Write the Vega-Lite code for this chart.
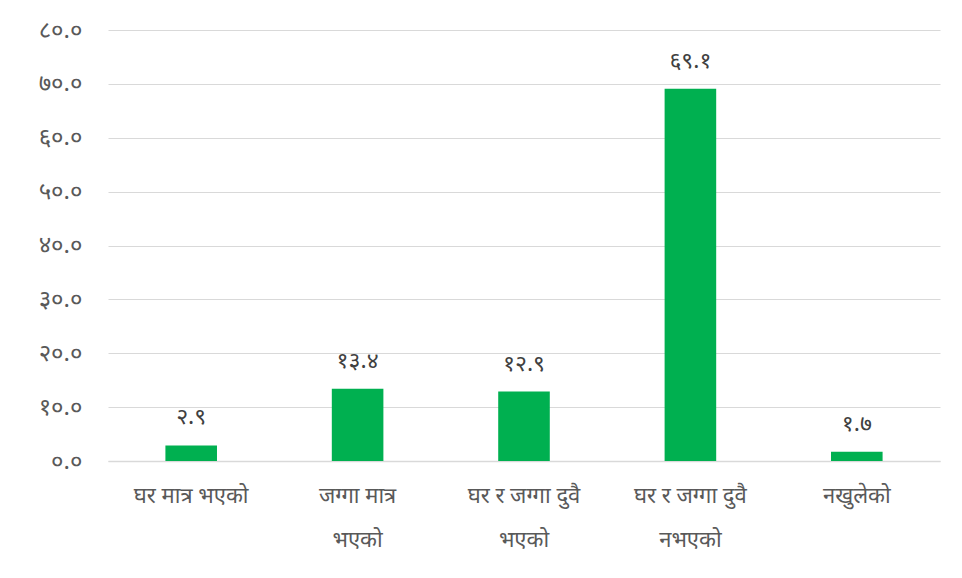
{
  "$schema": "https://vega.github.io/schema/vega-lite/v6.json",
  "width": 832,
  "height": 431,
  "autosize": "none",
  "padding": {"left": 108, "top": 30, "right": 22, "bottom": 117},
  "background": "white",
  "config": {
    "view": {"stroke": null},
    "font": "Noto Sans",
    "axis": {"labelFont": "Noto Sans", "labelColor": "#595959"}
  },
  "data": {
    "values": [
      {"category": "घर मात्र भएको", "value": 2.9, "label": "२.९"},
      {"category": "जग्गा मात्र|भएको", "value": 13.4, "label": "१३.४"},
      {"category": "घर र जग्गा दुवै|भएको", "value": 12.9, "label": "१२.९"},
      {"category": "घर र जग्गा दुवै|नभएको", "value": 69.1, "label": "६९.१"},
      {"category": "नखुलेको", "value": 1.7, "label": "१.७"}
    ]
  },
  "encoding": {
    "x": {
      "field": "category",
      "type": "nominal",
      "sort": null,
      "scale": {"paddingInner": 0.69, "paddingOuter": 0.345},
      "axis": {
        "title": null,
        "labelAngle": 0,
        "labelFontSize": 22,
        "labelExpr": "split(datum.label, '|')",
        "labelLineHeight": 44,
        "labelPadding": 24,
        "ticks": false,
        "domainColor": "#d9d9d9",
        "domainWidth": 1.5
      }
    },
    "y": {
      "field": "value",
      "type": "quantitative",
      "scale": {"domain": [0, 80]},
      "axis": {
        "title": null,
        "values": [0, 10, 20, 30, 40, 50, 60, 70, 80],
        "labelExpr": "datum.value == 0 ? '०.०' : datum.value == 10 ? '१०.०' : datum.value == 20 ? '२०.०' : datum.value == 30 ? '३०.०' : datum.value == 40 ? '४०.०' : datum.value == 50 ? '५०.०' : datum.value == 60 ? '६०.०' : datum.value == 70 ? '७०.०' : '८०.०'",
        "labelFontSize": 24,
        "labelPadding": 26,
        "ticks": false,
        "domain": false,
        "gridColor": "#d9d9d9",
        "gridWidth": 1.2
      }
    }
  },
  "layer": [
    {"mark": {"type": "bar", "color": "#00B050"}},
    {
      "mark": {"type": "text", "dy": -28, "fontSize": 23, "color": "#404040", "font": "Noto Sans"},
      "encoding": {"text": {"field": "label"}}
    }
  ]
}
